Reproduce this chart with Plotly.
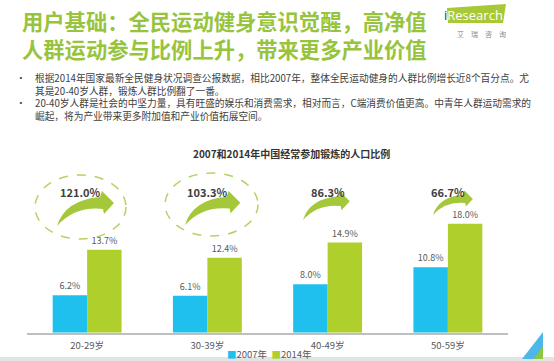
import plotly.graph_objects as go

# ---------------- data ----------------
categories = ["20-29岁", "30-39岁", "40-49岁", "50-59岁"]
series_names = ["2007年", "2014年"]
values_2007 = [6.2, 6.1, 8.0, 10.8]
values_2014 = [13.7, 12.4, 14.9, 18.0]
growth_labels = ["121.0%", "103.3%", "86.3%", "66.7%"]

title_lines = ["用户基础：全民运动健身意识觉醒，高净值", "人群运动参与比例上升，带来更多产业价值"]
bullet_lines = [
    ["根据2014年国家最新全民健身状况调查公报数据，相比2007年，整体全民运动健身的人群比例增长近8个百分点。尤",
     "其是20-40岁人群，锻炼人群比例翻了一番。"],
    ["20-40岁人群是社会的中坚力量，具有旺盛的娱乐和消费需求，相对而言，C端消费价值更高。中青年人群运动需求的",
     "崛起，将为产业带来更多附加值和产业价值拓展空间。"],
]
chart_title = "2007和2014年中国经常参加锻炼的人口比例"

# ---------------- style ----------------
W, H = 554, 361
BLUE = "#1FC0EE"
GREEN = "#AECF2C"
TITLE_GREEN = "#97C43C"
ARROW_GREEN = "#A4C83A"
FONT = "Noto Sans CJK SC"


def px(x):
    return x / W


def py(y):
    return 1 - y / H


X0, X1 = 27, 508
Y_BASE, Y_TOP = 332.7, 211.7
pitch = (X1 - X0) / len(categories)


def cat_center(i):
    return X0 + (i + 0.5) * pitch


fig = go.Figure()
for name, vals, col in [(series_names[0], values_2007, BLUE), (series_names[1], values_2014, GREEN)]:
    fig.add_bar(
        x=categories, y=vals, name=name, marker_color=col, marker_line_width=0,
        texttemplate="%{y:.1f}%", textposition="outside",
        textfont=dict(size=9, color="#595959", family=FONT),
        cliponaxis=False,
    )

shapes = []
annotations = []

# title (two lines in one block)
annotations.append(dict(
    text="<b>" + "<br>".join(title_lines) + "</b>", x=px(20), y=py(34.5), xref="paper", yref="paper",
    xanchor="left", yanchor="middle", align="left", showarrow=False,
    font=dict(size=21.3, color=TITLE_GREEN, family=FONT)))

# logo
shapes.append(dict(type="path", xref="paper", yref="paper",
                   path=f"M {px(447)},{py(8)} L {px(506)},{py(4)} L {px(503)},{py(23)} L {px(448)},{py(23)} Z",
                   fillcolor="#A9C835", line=dict(width=0), layer="below"))
annotations.append(dict(text="<span style='color:#3A3A3A'>i</span>Research", x=px(474), y=py(15),
                        xref="paper", yref="paper", showarrow=False, xanchor="center", yanchor="middle",
                        font=dict(size=13, color="white", family="Open Sans")))
annotations.append(dict(text="艾　瑞　咨　询", x=px(481), y=py(34), xref="paper", yref="paper",
                        showarrow=False, xanchor="center", yanchor="middle",
                        font=dict(size=7, color="#8C8C8C", family=FONT)))

# bullets: all four lines in one text block, bullet dots beside the first line of each item
all_lines = [ln for item in bullet_lines for ln in item]
line_h = 9.7 * 1.3
first_y = 78
annotations.append(dict(text="<br>".join(all_lines), x=px(33),
                        y=py(first_y + line_h * (len(all_lines) - 1) / 2),
                        xref="paper", yref="paper", showarrow=False, xanchor="left", yanchor="middle",
                        align="left", font=dict(size=9.7, color="#404040", family=FONT)))
row = 0
for item in bullet_lines:
    annotations.append(dict(text="•", x=px(21), y=py(first_y + row * line_h), xref="paper", yref="paper",
                            showarrow=False, xanchor="center", yanchor="middle",
                            font=dict(size=9.7, color="#404040", family=FONT)))
    row += len(item)

# chart title
annotations.append(dict(text=f"<b>{chart_title}</b>", x=px(291), y=py(154), xref="paper", yref="paper",
                        showarrow=False, xanchor="center", yanchor="middle",
                        font=dict(size=10, color="#333333", family=FONT)))

# growth labels + arrows
label_x = [80, cat_center(1), cat_center(2), cat_center(3)]
for i, lab in enumerate(growth_labels):
    annotations.append(dict(text=f"<b>{lab}</b>", x=px(label_x[i]), y=py(192), xref="paper", yref="paper",
                            showarrow=False, xanchor="center", yanchor="middle",
                            font=dict(size=11, color="#404040", family=FONT)))

arrow_tails = [(57, 226, 1.0), (185, 225, 0.97), (303, 220, 0.82), (433, 215, 0.7)]


def arrow_path(tx, ty, s):
    def P(dx, dy):
        return f"{px(tx + dx * s)},{py(ty + dy * s)}"
    return (f"M {P(0, 0)} Q {P(8, -26)} {P(43, -29)} L {P(45, -35)} L {P(57, -23)} "
            f"L {P(47, -12)} L {P(46, -17)} Q {P(18, -20)} {P(0, 0)} Z")


for tx, ty, s in arrow_tails:
    shapes.append(dict(type="path", xref="paper", yref="paper", path=arrow_path(tx, ty, s),
                       fillcolor=ARROW_GREEN, line=dict(width=0)))

# dashed ellipses
for (x0, y0, x1, y1) in [(35, 175, 126, 239), (165, 173, 258, 236)]:
    shapes.append(dict(type="circle", xref="paper", yref="paper",
                       x0=px(x0), x1=px(x1), y0=py(y0), y1=py(y1),
                       line=dict(color="#B9D062", width=1.5, dash="dash")))

# legend (custom, compact)
legend_text = (f"<span style='color:{BLUE}'>■</span>{series_names[0]}  "
               f"<span style='color:{GREEN}'>■</span>{series_names[1]}")
annotations.append(dict(text=legend_text, x=px(269), y=py(354), xref="paper", yref="paper",
                        showarrow=False, xanchor="center", yanchor="middle",
                        font=dict(size=9.5, color="#595959", family=FONT)))

# bottom band and corner triangles
shapes.append(dict(type="rect", xref="paper", yref="paper", x0=0, x1=1, y0=py(361), y1=py(357),
                   fillcolor="#E3E3E3", line=dict(width=0), layer="below"))
shapes.append(dict(type="path", xref="paper", yref="paper",
                   path=f"M {px(522)},{py(359)} L {px(543)},{py(332)} L {px(543)},{py(359)} Z",
                   fillcolor="#4DB8E8", line=dict(width=0)))
shapes.append(dict(type="path", xref="paper", yref="paper",
                   path=f"M {px(534)},{py(359)} L {px(543)},{py(346)} L {px(543)},{py(359)} Z",
                   fillcolor="#8DC63F", line=dict(width=0)))

fig.update_layout(
    width=W, height=H, margin=dict(l=0, r=0, t=0, b=0),
    paper_bgcolor="white", plot_bgcolor="white",
    barmode="group", bargap=0.427, bargroupgap=0, showlegend=False,
    font=dict(family=FONT),
    xaxis=dict(domain=[px(X0), px(X1)], showline=True, linecolor="#BFBFBF", linewidth=1.5,
               ticks="", showgrid=False, zeroline=False, automargin=False, ticklabelstandoff=3,
               tickfont=dict(size=9.5, color="#595959", family=FONT)),
    yaxis=dict(domain=[py(Y_BASE), py(Y_TOP)], range=[0, 20], visible=False,
               showgrid=False, zeroline=False, automargin=False),
    shapes=shapes, annotations=annotations,
)

fig.write_html("out.html", config={"displayModeBar": False},
               post_script="document.body.style.margin='0px';document.body.style.overflow='hidden';")
